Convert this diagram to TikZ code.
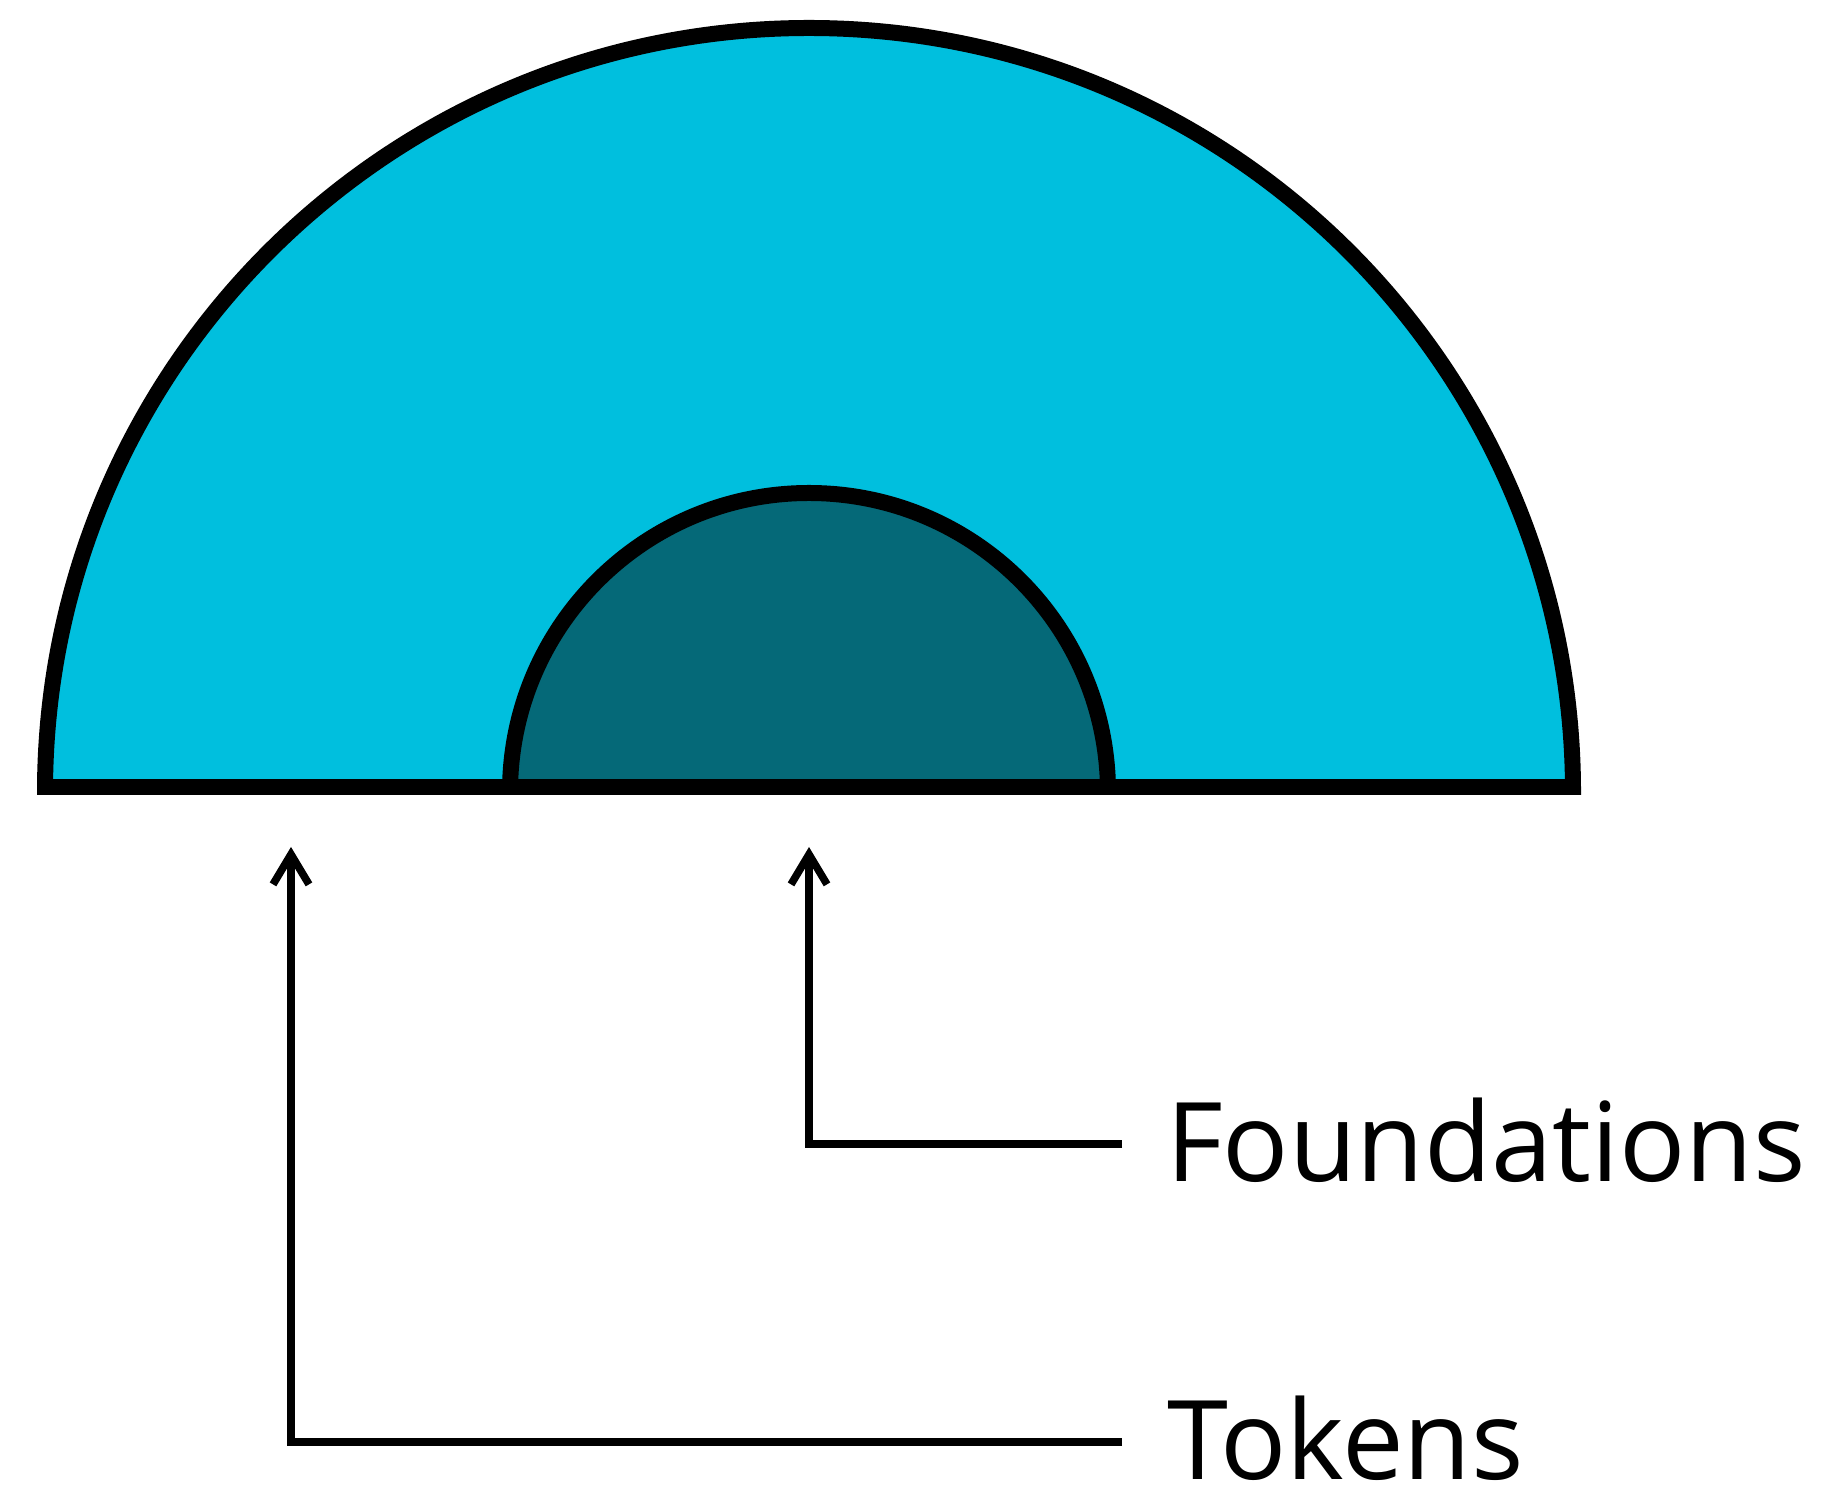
\documentclass[tikz,border=0pt]{standalone}
\usepackage{fontspec}
\setmainfont{Open Sans}
\usetikzlibrary{arrows.meta,calc}
\definecolor{outerfill}{RGB}{0,191,222}
\definecolor{innerfill}{RGB}{5,105,120}
\begin{document}
\begin{tikzpicture}[x=1pt,y=1pt,
  rim/.style={line width=16pt, draw=black},
  conn/.style={line width=7.6pt, draw=black, -{Straight Barb[length=30pt,width=36pt]}},
  lbl/.style={inner sep=0pt, outer sep=0pt, font=\fontsize{110}{130}\selectfont}]
\useasboundingbox (0,0) rectangle (1836,1491);
% outer semicircle
\fill[outerfill] (45,699) arc[start angle=180,end angle=0,radius=764] -- cycle;
\draw[rim] (45,696) -- (45,699) arc[start angle=180,end angle=0,radius=764] -- (1573,696);
% inner semicircle
\fill[innerfill] (510,699) arc[start angle=180,end angle=0,radius=299] -- cycle;
\draw[rim] (510,696) -- (510,699) arc[start angle=180,end angle=0,radius=299] -- (1108,696);
% base line
\draw[line width=16pt] (53,704) -- (1572,704);
% arrow targets
\coordinate (tokTip) at (291,644);
\coordinate (fndTip) at (809,644);
% labels
\node[lbl, anchor=base west] (fnd) at (1166,309.5) {Foundations};
\node[lbl, anchor=base west] (tok) at (1167,12) {Tokens};
% connectors
\coordinate (fndStart) at ($(fnd.base west)+(-44,37.5)$);
\coordinate (tokStart) at ($(tok.base west)+(-45,37)$);
\draw[conn] (fndStart) -- (fndStart -| fndTip) -- (fndTip);
\draw[conn] (tokStart) -- (tokStart -| tokTip) -- (tokTip);
\end{tikzpicture}
\end{document}
